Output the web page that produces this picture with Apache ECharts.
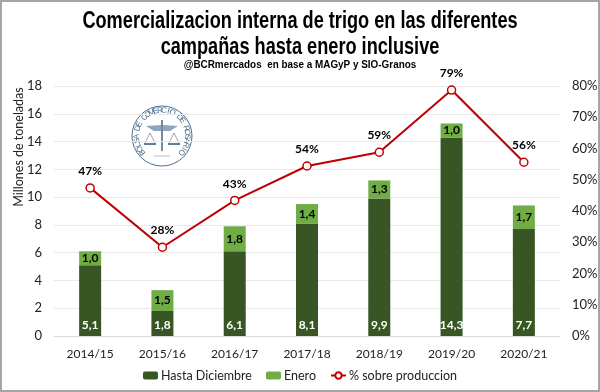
<!DOCTYPE html>
<html>
<head>
<meta charset="utf-8">
<script src="https://cdn.jsdelivr.net/npm/echarts@6/dist/echarts.min.js"></script>
<style>
  html, body { margin: 0; padding: 0; background: #fff; }
  #chart { width: 600px; height: 392px; }
</style>
</head>
<body>
<div id="chart"></div>
<script>
const categories = ['2014/15', '2015/16', '2016/17', '2017/18', '2018/19', '2019/20', '2020/21'];
const hastaDiciembre = [5.1, 1.8, 6.1, 8.1, 9.9, 14.3, 7.7];
const enero = [1.0, 1.5, 1.8, 1.4, 1.3, 1.0, 1.7];
const sobreProduccion = [47.4, 28.4, 43.4, 54.4, 58.8, 78.7, 55.6];

const labelFont = 'Lato, "Open Sans", sans-serif';
const titleFont = '"Liberation Sans", sans-serif';
const decimalComma = (p) => p.value.toFixed(1).replace('.', ',');

// no narrow font installed, so the heading is squeezed with scaleX
function headingText(text, y, size, scale) {
  return {
    type: 'text', x: 300, y: y, scaleX: scale,
    style: { text: text, fill: '#000', font: 'bold ' + size + 'px ' + titleFont, align: 'center', verticalAlign: 'middle' }
  };
}

// seal of the Bolsa, letters placed one by one around the ring
const sealText = 'BOLSA DE COMERCIO DE ROSARIO';
const sealColor = '#4f6f90';
const sealX = 162, sealY = 136, sealR = 25.5;
const sealStart = -130, sealStep = 260 / (sealText.length - 1);
const sealLetters = sealText.split('').map((ch, i) => {
  const rad = (sealStart + i * sealStep) * Math.PI / 180;
  return {
    type: 'text',
    x: sealX + sealR * Math.sin(rad),
    y: sealY - sealR * Math.cos(rad),
    rotation: -rad,
    style: { text: ch, fill: sealColor, font: '8px "Liberation Sans", sans-serif', align: 'center', verticalAlign: 'middle' }
  };
});

const sealShapes = [
  { type: 'circle', shape: { cx: sealX, cy: sealY, r: 30 }, style: { fill: '#fff', stroke: sealColor, lineWidth: 1 } },
  // staff and wings
  { type: 'line', shape: { x1: sealX, y1: sealY - 16, x2: sealX, y2: sealY + 15 }, style: { stroke: sealColor, lineWidth: 1.6 } },
  { type: 'polygon', shape: { points: [[sealX - 1, sealY - 11], [sealX - 16, sealY - 10], [sealX - 8, sealY - 5], [sealX - 1, sealY - 5]] }, style: { fill: '#8fa5bb' } },
  { type: 'polygon', shape: { points: [[sealX + 1, sealY - 11], [sealX + 16, sealY - 10], [sealX + 8, sealY - 5], [sealX + 1, sealY - 5]] }, style: { fill: '#8fa5bb' } },
  // scales
  { type: 'polyline', shape: { points: [[sealX - 17, sealY + 7], [sealX - 12, sealY - 3], [sealX - 7, sealY + 7]] }, style: { fill: 'none', stroke: sealColor, lineWidth: 0.6 } },
  { type: 'polyline', shape: { points: [[sealX + 17, sealY + 7], [sealX + 12, sealY - 3], [sealX + 7, sealY + 7]] }, style: { fill: 'none', stroke: sealColor, lineWidth: 0.6 } },
  { type: 'line', shape: { x1: sealX - 18, y1: sealY + 8, x2: sealX - 6, y2: sealY + 8 }, style: { stroke: sealColor, lineWidth: 1.8 } },
  { type: 'line', shape: { x1: sealX + 6, y1: sealY + 8, x2: sealX + 18, y2: sealY + 8 }, style: { stroke: sealColor, lineWidth: 1.8 } },
  { type: 'line', shape: { x1: sealX - 8, y1: sealY + 20, x2: sealX + 8, y2: sealY + 20 }, style: { stroke: '#8fa5bb', lineWidth: 0.7 } }
];

const chart = echarts.init(document.getElementById('chart'));

chart.setOption({
  animation: false,
  backgroundColor: '#fff',
  textStyle: { fontFamily: labelFont },
  grid: { left: 54, right: 40, top: 86, bottom: 56, outerBoundsMode: 'none' },
  legend: {
    data: ['Hasta Diciembre', 'Enero', '% sobre produccion'],
    bottom: 5, left: 'center', itemGap: 14, itemWidth: 15, itemHeight: 8,
    textStyle: { fontFamily: labelFont, fontSize: 12.5, color: '#222', padding: [0, 0, 0, -2] }
  },
  xAxis: {
    type: 'category',
    data: categories,
    axisTick: { show: false },
    axisLine: { lineStyle: { color: '#d9d9d9' } },
    axisLabel: { color: '#222', fontSize: 12, margin: 12, interval: 0 }
  },
  yAxis: [
    {
      type: 'value', min: 0, max: 18, interval: 2,
      name: 'Millones de toneladas', nameLocation: 'middle', nameGap: 29, nameMoveOverlap: false,
      nameTextStyle: { color: '#222', fontSize: 12.5, padding: [0, 0, 0, 128] },
      axisLabel: { color: '#222', fontSize: 13, margin: 12 },
      splitLine: { lineStyle: { color: '#e9e9e9' } }
    },
    {
      type: 'value', min: 0, max: 80, interval: 10,
      axisLabel: { color: '#222', fontSize: 13, margin: 12, formatter: '{value}%' },
      splitLine: { show: false }
    }
  ],
  series: [
    {
      name: 'Hasta Diciembre', type: 'bar', stack: 'total', data: hastaDiciembre, barWidth: 22,
      itemStyle: { color: '#375623' },
      label: { show: true, position: 'insideBottom', distance: 5, color: '#fff', fontSize: 12, fontWeight: 'bold', formatter: decimalComma }
    },
    {
      name: 'Enero', type: 'bar', stack: 'total', data: enero, barWidth: 22,
      itemStyle: { color: '#70ad47' },
      label: { show: true, position: 'inside', color: '#000', fontSize: 12, fontWeight: 'bold', formatter: decimalComma }
    },
    {
      name: '% sobre produccion', type: 'line', yAxisIndex: 1, data: sobreProduccion,
      symbol: 'circle', symbolSize: 8, z: 5,
      lineStyle: { color: '#c00000', width: 2 },
      itemStyle: { color: '#fff', borderColor: '#c00000', borderWidth: 1.5 },
      label: { show: true, position: 'top', distance: 6, color: '#000', fontSize: 12, fontWeight: 'bold', formatter: (p) => Math.round(p.value) + '%' }
    }
  ],
  graphic: [
    { type: 'rect', z: 100, shape: { x: 1, y: 1, width: 598, height: 390 }, style: { fill: 'none', stroke: '#a6a6a6', lineWidth: 2 } },
    headingText('Comercializacion interna de trigo en las diferentes', 22, 23, 0.79),
    headingText('campañas hasta enero inclusive', 48, 23, 0.79),
    headingText('@BCRmercados  en base a MAGyP y SIO-Granos', 65, 11, 0.9),
    ...sealShapes,
    ...sealLetters
  ]
});
</script>
</body>
</html>
